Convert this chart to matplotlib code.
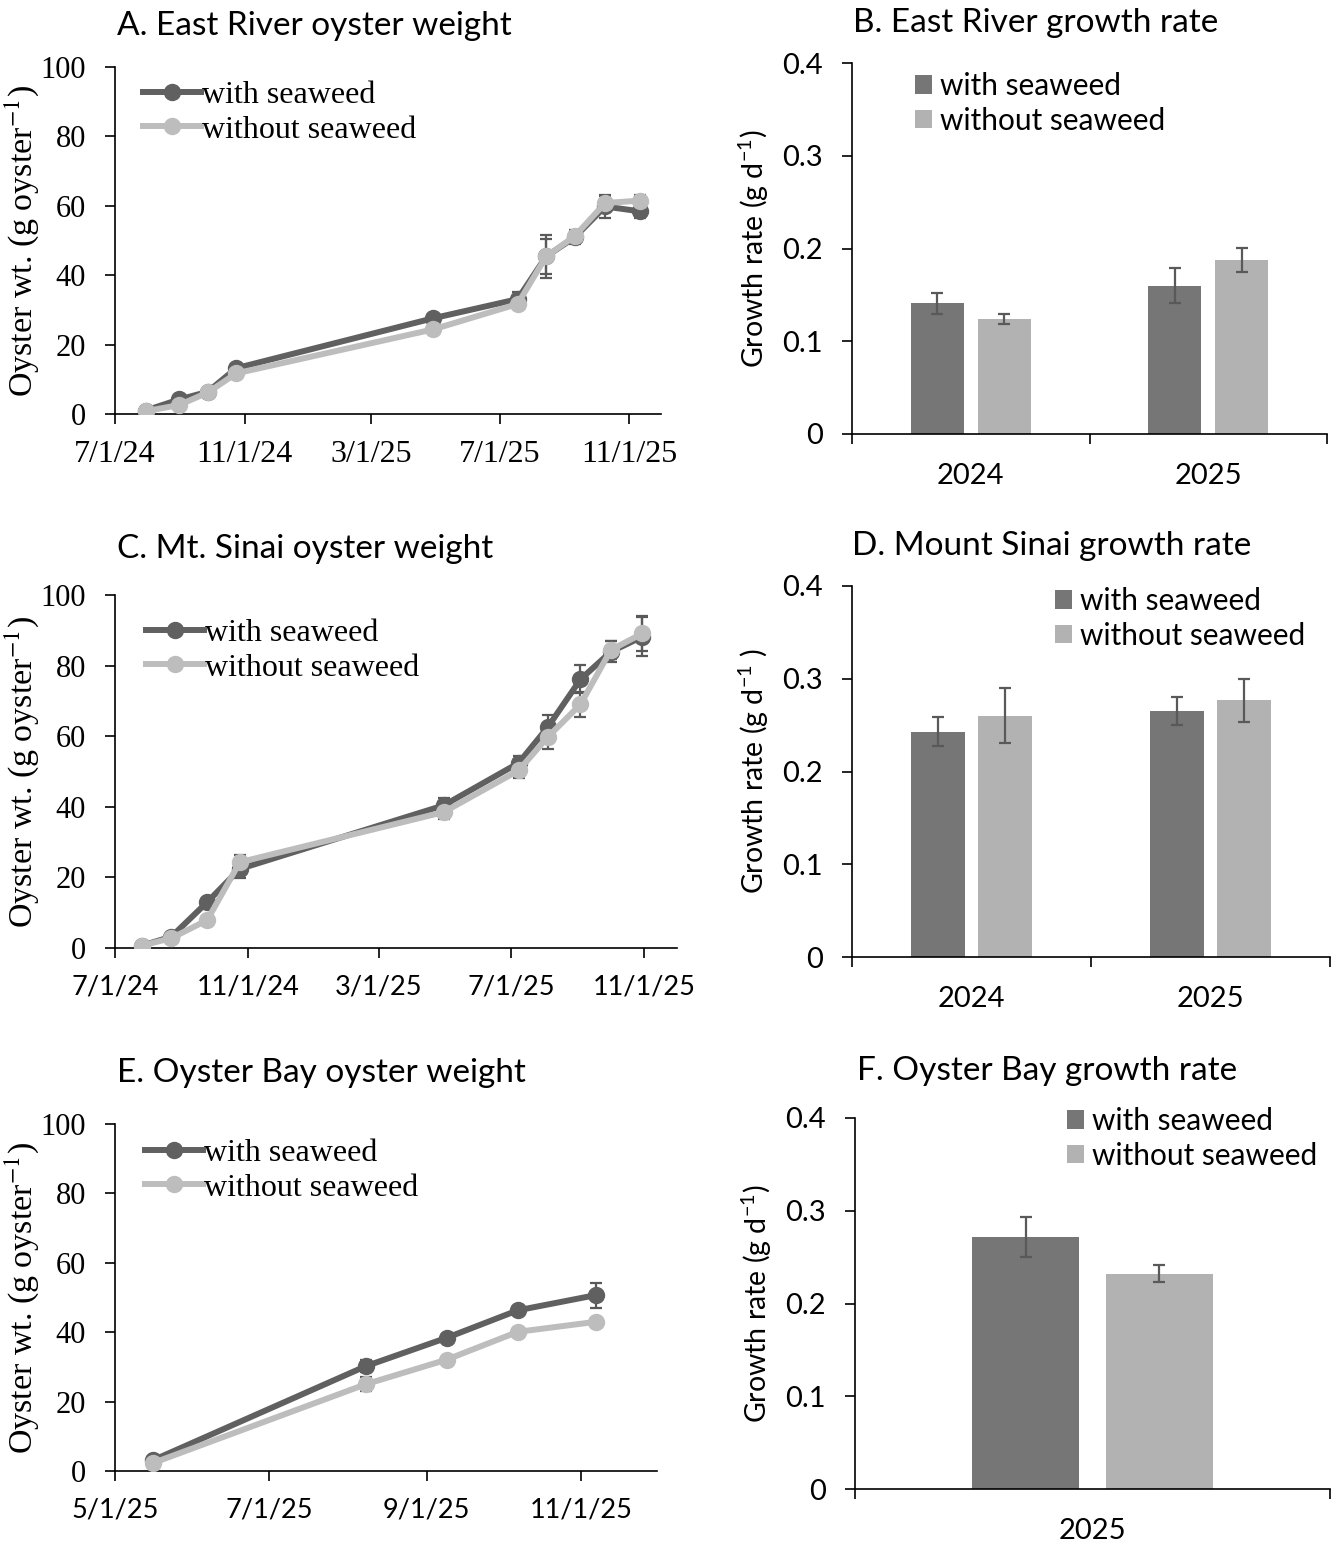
import matplotlib
matplotlib.use("Agg")
import matplotlib.pyplot as plt
import matplotlib.dates as mdates
import numpy as np
from datetime import datetime

# ---- data ----
# East River oyster weight
er_dates = ["2024-07-30", "2024-08-31", "2024-09-27", "2024-10-24", "2025-04-29",
            "2025-07-18", "2025-08-14", "2025-09-10", "2025-10-09", "2025-11-11"]
er_with = [1.0, 4.2, 6.4, 13.2, 27.6, 33.1, 45.4, 50.9, 59.8, 58.4]
er_with_err = [0.4, 0.6, 0.6, 0.8, 1.0, 2.0, 6.3, 2.0, 3.4, 2.0]
er_without = [0.8, 2.6, 6.2, 11.7, 24.4, 31.7, 45.4, 51.2, 60.8, 61.5]
er_without_err = [0.3, 0.5, 0.5, 0.8, 1.0, 1.5, 5.0, 1.5, 2.0, 1.5]

# Mt. Sinai oyster weight
ms_dates = ["2024-07-26", "2024-08-22", "2024-09-24", "2024-10-24", "2025-04-30",
            "2025-07-08", "2025-08-04", "2025-09-03", "2025-10-01", "2025-10-30"]
ms_with = [0.7, 3.2, 13.0, 22.4, 40.4, 52.4, 62.6, 76.1, 83.9, 88.2]
ms_with_err = [0.3, 0.5, 1.0, 2.5, 2.0, 2.0, 3.5, 4.0, 3.0, 5.5]
ms_without = [0.7, 2.8, 7.9, 24.3, 38.5, 50.3, 59.8, 69.0, 84.4, 89.1]
ms_without_err = [0.3, 0.5, 0.8, 2.0, 2.0, 2.0, 3.5, 3.5, 2.5, 5.0]

# Oyster Bay oyster weight
ob_dates = ["2025-05-16", "2025-08-08", "2025-09-09", "2025-10-07", "2025-11-07"]
ob_with = [3.1, 30.2, 38.4, 46.3, 50.7]
ob_with_err = [0.5, 1.8, 1.0, 1.0, 3.6]
ob_without = [2.3, 25.0, 32.1, 40.1, 43.0]
ob_without_err = [0.5, 2.0, 1.0, 1.0, 1.0]

# growth rates (g d-1)
er_years = ["2024", "2025"]
er_rate_with = [0.1408, 0.160]
er_rate_with_err = [0.0117, 0.019]
er_rate_without = [0.1242, 0.1874]
er_rate_without_err = [0.0057, 0.0129]

ms_years = ["2024", "2025"]
ms_rate_with = [0.2427, 0.2653]
ms_rate_with_err = [0.0156, 0.015]
ms_rate_without = [0.260, 0.2768]
ms_rate_without_err = [0.0296, 0.023]

ob_years = ["2025"]
ob_rate_with = [0.272]
ob_rate_with_err = [0.0214]
ob_rate_without = [0.2322]
ob_rate_without_err = [0.0095]

labels = ["with seaweed", "without seaweed"]

# ---- style ----
DARK_LINE = "#606060"
LIGHT_LINE = "#bdbdbd"
DARK_BAR = "#767676"
LIGHT_BAR = "#b2b2b2"
ERR = "#595959"
SERIF = "Liberation Serif"
SANS = "Lato"
plt.rcParams['mathtext.fontset'] = 'custom'
plt.rcParams['mathtext.rm'] = SANS
plt.rcParams['mathtext.it'] = SANS
plt.rcParams['axes.linewidth'] = 1.2

W, H = 1341, 1545
fig = plt.figure(figsize=(W / 100, H / 100), dpi=100)


def px_axes(l, t, r, b):
    return fig.add_axes([l / W, 1 - b / H, (r - l) / W, (b - t) / H])


def to_dates(lst):
    return [datetime.strptime(d, "%Y-%m-%d") for d in lst]


def line_panel(rect, dates, w, we, wo, woe, xlim, xticks, xticklabels,
               xfont, xsize, leg_xy):
    ax = px_axes(*rect)
    x = mdates.date2num(to_dates(dates))
    ax.errorbar(x, w, yerr=we, fmt='none', ecolor=ERR, elinewidth=1.6,
                capsize=4, capthick=1.6, zorder=2)
    ax.errorbar(x, wo, yerr=woe, fmt='none', ecolor=ERR, elinewidth=1.6,
                capsize=4, capthick=1.6, zorder=2)
    ax.plot(x, w, color=DARK_LINE, lw=4.3, marker='o', ms=11.5, label=labels[0], zorder=3)
    ax.plot(x, wo, color=LIGHT_LINE, lw=4.3, marker='o', ms=11.5, label=labels[1], zorder=4)
    ax.set_xlim(mdates.date2num(to_dates(xlim)))
    ax.set_ylim(0, 100)
    ax.set_yticks(range(0, 101, 20))
    ax.set_yticklabels([str(v) for v in range(0, 101, 20)], family=SERIF, fontsize=22)
    ax.set_xticks(mdates.date2num(to_dates(xticks)))
    ax.set_xticklabels(xticklabels, family=xfont, fontsize=xsize)
    ax.tick_params(axis='both', direction='out', length=7, width=1.2)
    ax.tick_params(axis='y', pad=14)
    ax.tick_params(axis='x', pad=12)
    ax.spines['top'].set_visible(False)
    ax.spines['right'].set_visible(False)
    ax.set_ylabel("Oyster wt. (g oyster$^{-1}$)", family=SERIF, fontsize=24.5,
                  math_fontfamily='stix', labelpad=-1)
    ax.legend(loc='upper left', bbox_to_anchor=(leg_xy[0] / W, 1 - leg_xy[1] / H),
              bbox_transform=fig.transFigure, frameon=False, borderpad=0,
              borderaxespad=0, handlelength=1.8, handletextpad=0.05,
              labelspacing=0.15, prop={'family': SERIF, 'size': 23})
    return ax


def bar_panel(rect, years, w, we, wo, woe, ylabel, leg_xy):
    ax = px_axes(*rect)
    pos = np.arange(len(years))
    bw = 0.224
    off = 0.141
    ekw = dict(ecolor=ERR, elinewidth=1.6, capsize=4, capthick=1.6)
    ax.bar(pos - off, w, bw, color=DARK_BAR, yerr=we, error_kw=ekw, label=labels[0])
    ax.bar(pos + off, wo, bw, color=LIGHT_BAR, yerr=woe, error_kw=ekw, label=labels[1])
    ax.set_xlim(-0.5, len(years) - 0.5)
    ax.set_ylim(0, 0.4)
    ax.set_yticks([0, 0.1, 0.2, 0.3, 0.4])
    ax.set_yticklabels(["0", "0.1", "0.2", "0.3", "0.4"], family=SANS, fontsize=21)
    ax.set_xticks(np.arange(len(years) + 1) - 0.5)
    ax.set_xticklabels([])
    ax.set_xticks(pos, minor=True)
    ax.set_xticklabels(years, minor=True, family=SANS, fontsize=21)
    ax.tick_params(axis='x', which='minor', length=0, pad=21)
    ax.tick_params(axis='both', which='major', direction='out', length=7, width=1.2)
    ax.tick_params(axis='y', which='major', pad=14)
    ax.spines['top'].set_visible(False)
    ax.spines['right'].set_visible(False)
    ax.set_ylabel(ylabel, family=SANS, fontsize=20.5,
                  math_fontfamily='custom', labelpad=8)
    ax.legend(loc='upper left', bbox_to_anchor=(leg_xy[0] / W, 1 - leg_xy[1] / H),
              bbox_transform=fig.transFigure, frameon=False, borderpad=0,
              borderaxespad=0, handlelength=0.57, handleheight=0.57,
              handletextpad=0.27, labelspacing=0.22,
              prop={'family': SANS, 'size': 21.5})
    return ax


date_ticks_24 = ["2024-07-01", "2024-11-01", "2025-03-01", "2025-07-01", "2025-11-01"]
date_labels_24 = ["7/1/24", "11/1/24", "3/1/25", "7/1/25", "11/1/25"]
date_ticks_25 = ["2025-05-01", "2025-07-01", "2025-09-01", "2025-11-01"]
date_labels_25 = ["5/1/25", "7/1/25", "9/1/25", "11/1/25"]

line_panel((115, 67, 661, 414), er_dates, er_with, er_with_err, er_without, er_without_err,
           ["2024-07-01", "2025-12-01"], date_ticks_24, date_labels_24, SERIF, 23, (143, 81))
line_panel((115, 595, 677, 948), ms_dates, ms_with, ms_with_err, ms_without, ms_without_err,
           ["2024-07-01", "2025-12-01"], date_ticks_24, date_labels_24, SANS, 19.5, (146, 619))
line_panel((115, 1124, 657, 1471), ob_dates, ob_with, ob_with_err, ob_without, ob_without_err,
           ["2025-05-01", "2025-12-01"], date_ticks_25, date_labels_25, SANS, 19.5, (145, 1139))

bar_panel((852, 63, 1327, 434), er_years, er_rate_with, er_rate_with_err,
          er_rate_without, er_rate_without_err, "Growth rate (g d$^{-1}$)", (915, 72))
bar_panel((852, 586, 1330, 957), ms_years, ms_rate_with, ms_rate_with_err,
          ms_rate_without, ms_rate_without_err, "Growth rate (g d$^{-1}$ )", (1055, 587))
bar_panel((855, 1118, 1330, 1489), ob_years, ob_rate_with, ob_rate_with_err,
          ob_rate_without, ob_rate_without_err, "Growth rate (g d$^{-1}$)", (1067, 1107))

titles = [("A. East River oyster weight", 117, 26),
          ("B. East River growth rate", 853, 23),
          ("C. Mt. Sinai oyster weight", 117, 549),
          ("D. Mount Sinai growth rate", 852, 546),
          ("E. Oyster Bay oyster weight", 117, 1073),
          ("F. Oyster Bay growth rate", 857, 1071)]
for txt, tx, ty in titles:
    fig.text(tx / W, 1 - ty / H, txt, family=SANS, fontsize=24, ha='left', va='center')

fig.savefig("out.png", dpi=100)
